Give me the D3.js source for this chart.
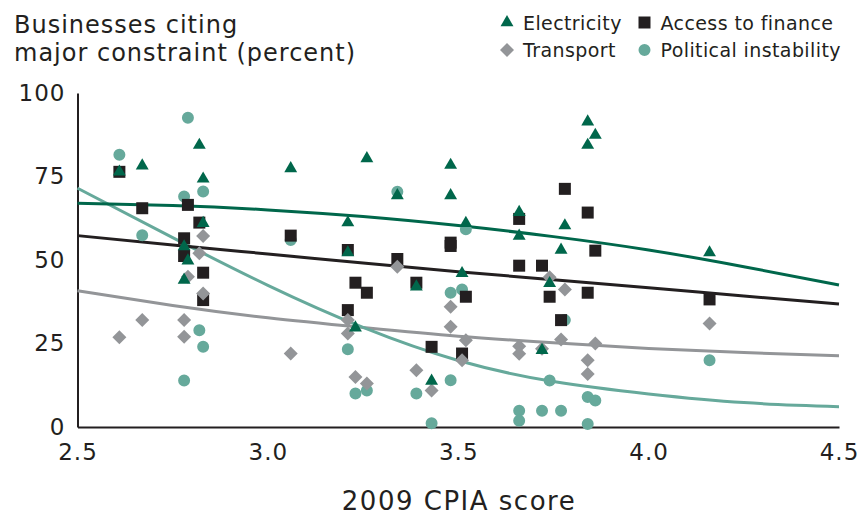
<!DOCTYPE html>
<meta charset="utf-8">
<style>
body { margin: 0; background: #fff; }
svg { font-family: "DejaVu Sans", sans-serif; }
.title { font-size: 24px; letter-spacing: 1px; fill: #231f20; }
.legend text { font-size: 19px; letter-spacing: 0.4px; fill: #231f20; }
.axis text { font-size: 23px; letter-spacing: 1px; fill: #231f20; font-family: "DejaVu Sans", sans-serif; }
.axis .domain { stroke: #231f20; stroke-width: 2px; }
.xtitle { font-size: 26px; letter-spacing: 1.5px; fill: #231f20; }
.trend { fill: none; stroke-width: 3px; }
</style>
<svg width="862" height="517"></svg>
<script src="https://cdn.jsdelivr.net/npm/d3@7"></script>
<script>

// [CPIA score, percent of businesses]
var electricity = [[2.61,76.4],[2.67,78.2],[2.78,54],[2.79,49.8],[2.78,44],[2.82,84.4],[2.83,74.3],[2.83,61],
  [3.06,77.4],[3.21,61.2],[3.21,52.2],[3.23,29.7],[3.26,80.4],[3.34,69.3],[3.39,42],[3.43,13.8],[3.48,78.4],
  [3.48,69.3],[3.51,46],[3.52,61],[3.66,64.3],[3.66,57.2],[3.72,23],[3.74,43],[3.77,53],[3.78,60.3],
  [3.84,91.4],[3.86,87.4],[3.84,84.4],[4.16,52.2]];

var finance = [[2.61,76.4],[2.67,65.5],[2.79,66.5],[2.78,56.5],[2.78,51.2],[2.82,61.2],[2.83,46.2],[2.83,38],
  [3.06,57.3],[3.21,53],[3.21,35],[3.23,43.2],[3.26,40.2],[3.34,50.3],[3.39,43.2],[3.43,24],[3.48,55.2],[3.48,54.2],
  [3.52,39],[3.51,22],[3.66,62.3],[3.66,48.3],[3.72,48.3],[3.74,39],[3.77,32],[3.78,71.3],[3.84,64.2],
  [3.84,40.2],[3.86,52.8],[4.16,38.2]];

var transport = [[2.61,26.9],[2.67,32],[2.78,32],[2.78,27],[2.79,45],[2.82,52],[2.83,57.2],[2.83,40],
  [3.06,22],[3.21,32],[3.21,28],[3.23,15],[3.26,13],[3.34,48],[3.39,17],[3.43,10.9],[3.48,36],[3.48,30],
  [3.51,20],[3.52,26],[3.66,24.2],[3.66,21.9],[3.72,23.4],[3.74,44.8],[3.77,26.2],[3.78,41.2],[3.84,20],
  [3.84,15.9],[3.86,25],[4.16,31]];

var political = [[2.61,81.5],[2.67,57.4],[2.78,69],[2.78,13.9],[2.79,92.6],[2.82,29],[2.83,70.5],[2.83,24],
  [3.06,56],[3.21,23.3],[3.23,10],[3.26,10.9],[3.34,70.4],[3.39,10],[3.43,1.1],[3.48,40.2],[3.48,14],
  [3.51,41.2],[3.52,59.2],[3.66,4.9],[3.66,1.9],[3.72,4.9],[3.74,13.9],[3.77,4.9],[3.78,32],[3.84,9],
  [3.84,0.9],[3.86,7.9],[4.16,20]];

// fitted lines, read at these scores
var trendScores = [2.5, 2.75, 3.0, 3.25, 3.5, 3.75, 4.0, 4.25, 4.5];
var electricityTrend = [67, 66.3, 65, 63, 60.3, 57, 53, 48, 42.5];
var financeTrend = [57.3, 54.5, 51.8, 49.1, 46.5, 44.1, 41.7, 39.2, 36.8];
var transportTrend = [40.8, 36.4, 32.7, 29.8, 27.2, 25.2, 23.5, 22.3, 21.3];
var politicalTrend = [71.5, 56.7, 42.4, 29.8, 19.9, 13.6, 9.9, 7.3, 6.1];

var xTicks = [2.5, 3.0, 3.5, 4.0, 4.5];
var yTicks = [0, 25, 50, 75, 100];

var colors = {
  electricity: "#00674b",
  finance: "#231f20",
  transport: "#939598",
  political: "#66a99b"
};

var svg = d3.select("svg");

var x = d3.scaleLinear().domain([2.5, 4.5]).range([77.5, 839]);
var y = d3.scaleLinear().domain([0, 100]).range([427, 93]);

// title
svg.append("text").attr("class", "title").attr("x", 14).attr("y", 33).text("Businesses citing");
svg.append("text").attr("class", "title").attr("x", 14).attr("y", 61).text("major constraint (percent)");

// axes
svg.append("g")
    .attr("class", "axis")
    .attr("transform", "translate(77.5,0)")
    .call(d3.axisLeft(y).tickValues(yTicks).tickSize(0).tickPadding(12));

svg.append("g")
    .attr("class", "axis")
    .attr("transform", "translate(0,427)")
    .call(d3.axisBottom(x).tickValues(xTicks).tickSize(0).tickPadding(17).tickFormat(d3.format(".1f")));

svg.selectAll(".axis .tick line").remove();

svg.append("text")
    .attr("class", "xtitle")
    .attr("x", 459)
    .attr("y", 510)
    .attr("text-anchor", "middle")
    .text("2009 CPIA score");

// trend lines
var line = d3.line()
    .x(function(d) { return x(d[0]); })
    .y(function(d) { return y(d[1]); })
    .curve(d3.curveNatural);

function trendData(vals) {
  return trendScores.map(function(s, i) { return [s, vals[i]]; });
}

[[transportTrend, colors.transport], [politicalTrend, colors.political],
 [financeTrend, colors.finance], [electricityTrend, colors.electricity]].forEach(function(t) {
  svg.append("path")
      .attr("class", "trend")
      .attr("d", line(trendData(t[0])))
      .attr("stroke", t[1]);
});

// markers
var shapes = {
  political: d3.symbol().type(d3.symbolCircle).size(113),
  finance: d3.symbol().type(d3.symbolSquare).size(144),
  transport: d3.symbol().type(d3.symbolSquare).size(98),
  electricity: d3.symbol().type(d3.symbolTriangle).size(72)
};
var rotation = { political: 0, finance: 0, transport: 45, electricity: 0 };

function drawSeries(name, data) {
  svg.append("g").selectAll("path")
    .data(data)
    .enter().append("path")
      .attr("d", shapes[name])
      .attr("fill", colors[name])
      .attr("transform", function(d) {
        return "translate(" + x(d[0]) + "," + y(d[1]) + ") rotate(" + rotation[name] + ")";
      });
}

drawSeries("political", political);
drawSeries("finance", finance);
drawSeries("transport", transport);
drawSeries("electricity", electricity);

// legend
var legendItems = [
  { name: "electricity", label: "Electricity", lx: 507, ly: 22.5 },
  { name: "finance", label: "Access to finance", lx: 644.5, ly: 22.5 },
  { name: "transport", label: "Transport", lx: 507, ly: 50 },
  { name: "political", label: "Political instability", lx: 644.5, ly: 50 }
];

var legend = svg.append("g").attr("class", "legend");
legendItems.forEach(function(item) {
  legend.append("path")
      .attr("d", shapes[item.name])
      .attr("fill", colors[item.name])
      .attr("transform", "translate(" + item.lx + "," + item.ly + ") rotate(" + rotation[item.name] + ")");
  legend.append("text")
      .attr("x", item.lx + 16)
      .attr("y", item.ly + 7)
      .text(item.label);
});

</script>
